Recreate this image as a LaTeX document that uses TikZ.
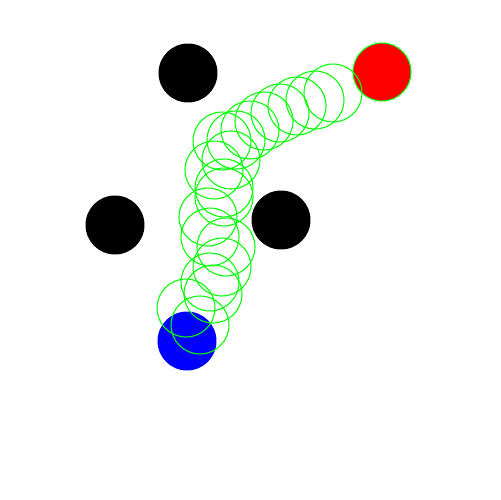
\documentclass[tikz,border=0pt]{standalone}
\begin{document}
\begin{tikzpicture}[x=0.02cm,y=-0.02cm,
  obst/.style={circle,fill=black,inner sep=0pt,minimum size=1.18cm},
  goal/.style={circle,fill=red,draw=green,line width=0.6pt,inner sep=0pt,minimum size=1.16cm},
  start/.style={circle,fill=blue,inner sep=0pt,minimum size=1.18cm},
  trail/.style={circle,draw=green,line width=0.6pt,inner sep=0pt,minimum size=1.16cm}]
\useasboundingbox (0,0) rectangle (500,500);
\fill[white] (0,0) rectangle (500,500);
\node[obst] (o1) at (188,73) {};
\node[obst] (o2) at (115,225) {};
\node[obst] (o3) at (281,220) {};
\node[start] (s) at (187,341) {};
\node[goal] (g) at (382,72) {};
\foreach \i/\x/\y in {1/333/93,2/315/100,3/297/106,4/280/113,5/264/121,6/250/130,7/236/140,8/222/141,9/231/160,10/214/170,11/224/188,12/224/197,13/208/217,14/210/237,15/226/247,16/222/267,17/210/282,18/213/294,19/186/308,20/200/325}
  \node[trail] (t\i) at (\x,\y) {};
\end{tikzpicture}
\end{document}
